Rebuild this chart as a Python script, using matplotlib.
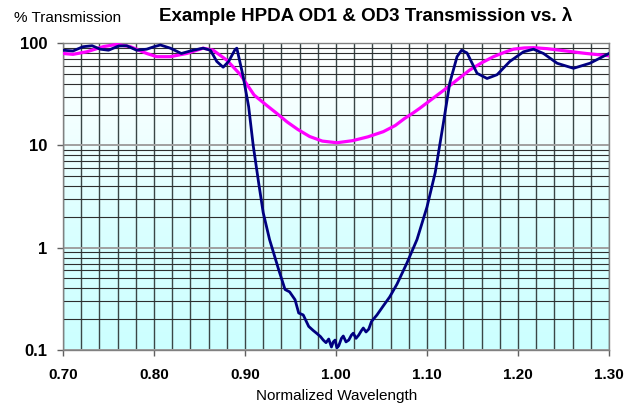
import numpy as np
import matplotlib
matplotlib.use("Agg")
import matplotlib.pyplot as plt
from matplotlib.ticker import FixedLocator, LogLocator, NullFormatter
from matplotlib.colors import LinearSegmentedColormap

plt.rcParams['font.family'] = ['Liberation Sans', 'DejaVu Sans']

# OD3 filter (navy curve)
od3_x = [0.700, 0.711, 0.722, 0.732, 0.741, 0.750, 0.761, 0.770, 0.781, 0.792,
         0.800, 0.807, 0.818, 0.830, 0.843, 0.854, 0.862, 0.869, 0.876, 0.882,
         0.889, 0.891, 0.898, 0.904, 0.909, 0.915, 0.920, 0.927, 0.937, 0.944,
         0.949, 0.955, 0.959, 0.964, 0.970, 0.975, 0.979, 0.983, 0.986, 0.989,
         0.992, 0.995, 0.997, 0.999, 1.001, 1.003, 1.006, 1.008, 1.011, 1.014,
         1.017, 1.019, 1.022, 1.025, 1.028, 1.030, 1.033, 1.036, 1.039, 1.045,
         1.052, 1.059, 1.067, 1.078, 1.089, 1.100, 1.109, 1.118, 1.125, 1.133,
         1.138, 1.144, 1.155, 1.166, 1.177, 1.191, 1.206, 1.217, 1.228, 1.243,
         1.261, 1.279, 1.300]
od3_t = [85, 83.6, 92, 94, 87, 85, 93.5, 94, 85, 87,
         92, 95.6, 89, 79, 85, 89, 85, 66, 58, 66,
         86, 89, 47, 23.9, 10, 4.3, 2.2, 1.2, 0.61, 0.39,
         0.37, 0.31, 0.23, 0.22, 0.17, 0.155, 0.145, 0.135, 0.125, 0.118,
         0.128, 0.107, 0.12, 0.125, 0.105, 0.11, 0.13, 0.137, 0.12, 0.125,
         0.14, 0.146, 0.13, 0.14, 0.155, 0.164, 0.15, 0.16, 0.19, 0.22,
         0.27, 0.33, 0.44, 0.71, 1.2, 2.5, 5.4, 16.5, 40.6, 73.5,
         85, 80, 50.6, 45, 49, 66, 82, 87, 79, 63.4,
         56.6, 63.4, 79]

# OD1 filter (magenta curve)
od1_x = [0.700, 0.711, 0.726, 0.744, 0.759, 0.774, 0.792, 0.803, 0.818, 0.836,
         0.854, 0.865, 0.880, 0.895, 0.900, 0.910, 0.924, 0.935, 0.946, 0.958,
         0.971, 0.985, 1.001, 1.018, 1.035, 1.052, 1.065, 1.075, 1.085, 1.092,
         1.107, 1.122, 1.135, 1.147, 1.160, 1.173, 1.185, 1.195, 1.207, 1.217,
         1.232, 1.246, 1.260, 1.275, 1.300]
od1_t = [79, 77.5, 82, 92, 97, 92, 79, 73.5, 73.5, 79,
         89, 85, 68, 49, 42, 31, 24.5, 20.5, 17, 14.3,
         12.2, 11.0, 10.6, 11.1, 12.1, 13.6, 15.6, 18.2, 20.8, 23,
         29, 36.5, 45, 54.5, 64, 73.5, 81, 87, 89.5, 90,
         88, 85, 82, 79, 75]

x_ticks = [0.70, 0.80, 0.90, 1.00, 1.10, 1.20, 1.30]
y_ticks = [0.1, 1, 10, 100]
y_labels = ['0.1', '1', '10', '100']

fig = plt.figure(figsize=(6.35, 4.08), dpi=100)
ax = fig.add_axes([63/635, 1 - 350/408, 546/635, 307/408])

# background gradient white -> light cyan
cmap = LinearSegmentedColormap.from_list(
    'bg', [(0.0, '#ccffff'), (0.4, '#daffff'), (0.7, '#f0ffff'), (1.0, '#ffffff')])
grad = np.linspace(0, 1, 256).reshape(-1, 1)
ax.imshow(grad, extent=[0, 1, 0, 1], transform=ax.transAxes, cmap=cmap,
          aspect='auto', origin='lower', zorder=0)

ax.set_yscale('log')
ax.set_xlim(0.70, 1.30)
ax.set_ylim(0.1, 100)

ax.set_xticks(x_ticks)
ax.set_xticklabels(['%.2f' % v for v in x_ticks])
ax.xaxis.set_minor_locator(FixedLocator(np.arange(0.72, 1.30, 0.02)))
ax.set_yticks(y_ticks)
ax.set_yticklabels(y_labels)
ax.yaxis.set_minor_locator(LogLocator(base=10, subs=np.arange(2, 10)))
ax.yaxis.set_minor_formatter(NullFormatter())

ax.grid(which='minor', axis='x', color='#3a4646', lw=1.0, zorder=1)
ax.grid(which='major', axis='x', color='#3a4646', lw=1.0, zorder=1)
ax.grid(which='minor', axis='y', color='#2e2e2e', lw=0.8, zorder=1)
ax.grid(which='major', axis='y', color='#a0a0a0', lw=1.4, zorder=1)
ax.set_axisbelow(True)

ax.tick_params(which='minor', length=0)
ax.tick_params(which='major', direction='out', length=4, width=1, color='#606060')
ax.tick_params(axis='x', pad=9, labelsize=11)
ax.tick_params(axis='y', pad=7, labelsize=12)
for lab in ax.get_xticklabels() + ax.get_yticklabels():
    lab.set_fontweight('bold')

for s in ax.spines.values():
    s.set_color('#808080')
    s.set_linewidth(1.0)

ax.plot(od1_x, od1_t, color='#ff00ff', lw=2.3, zorder=3, solid_joinstyle='round')
ax.plot(od3_x, od3_t, color='#000080', lw=2.0, zorder=4, solid_joinstyle='round')

fig.text(366/635, 1 - 16/408, 'Example HPDA OD1 & OD3 Transmission vs. λ',
         ha='center', va='center', fontsize=13.5, fontweight='bold')
fig.text(14/635, 1 - 18/408, '% Transmission', ha='left', va='center', fontsize=11)
fig.text(337/635, 1 - 396/408, 'Normalized Wavelength', ha='center', va='center',
         fontsize=11)

fig.savefig('out.png', dpi=100)
